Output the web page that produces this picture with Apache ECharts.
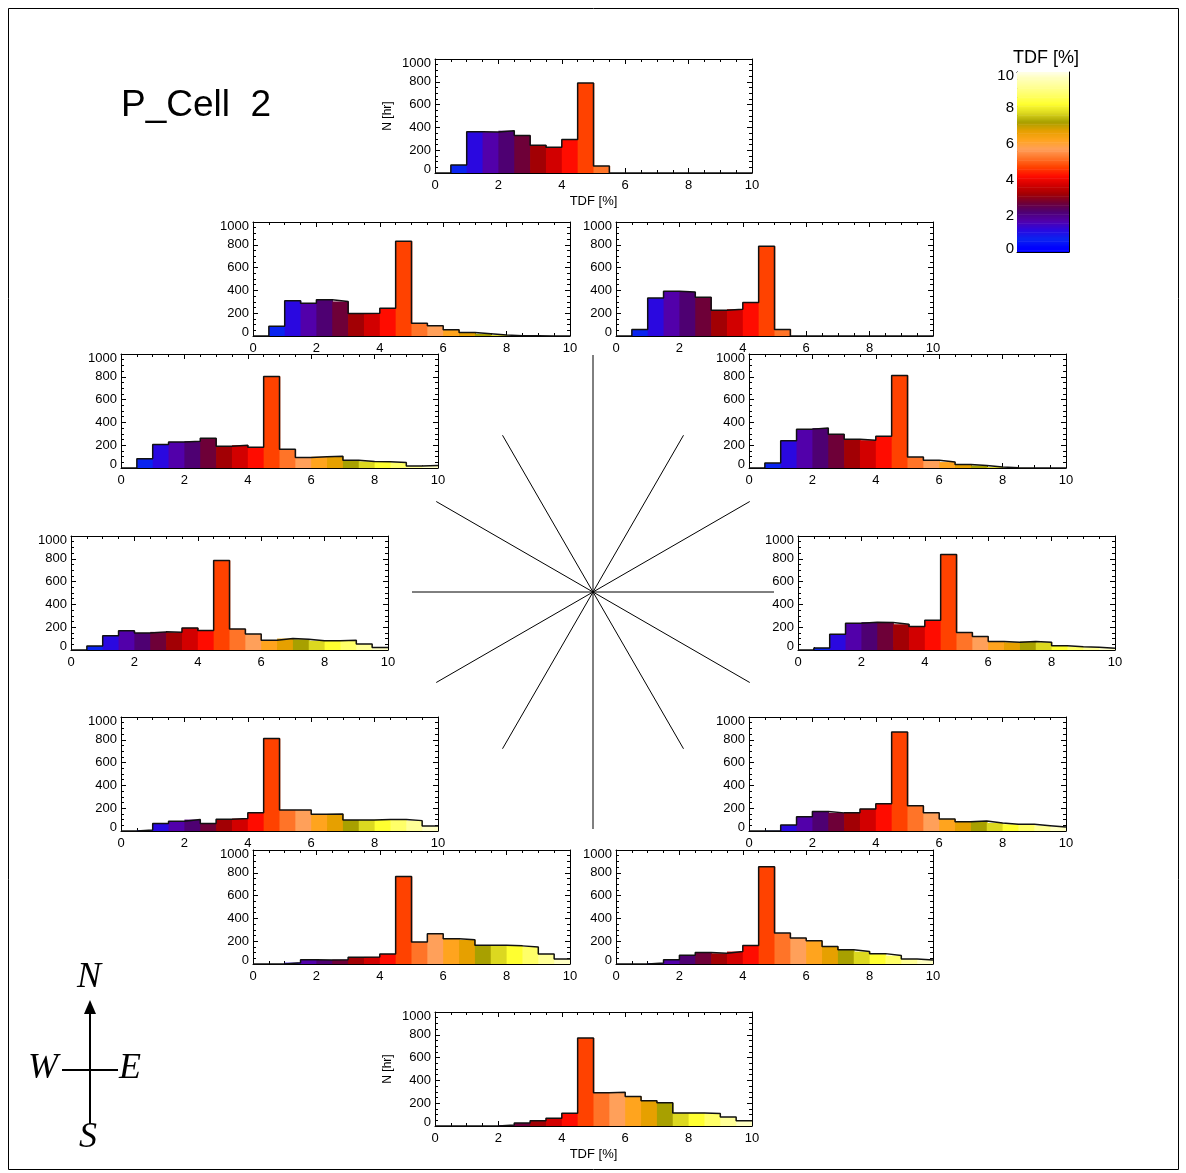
<!DOCTYPE html>
<html>
<head>
<meta charset="utf-8">
<script src="https://cdn.jsdelivr.net/npm/echarts@6/dist/echarts.min.js"></script>
<style>
  html, body { margin: 0; padding: 0; background: #fff; }
  #chart { width: 1186px; height: 1173px; }
</style>
</head>
<body>
<div id="chart"></div>
<script>
// TDF histogram bins: 20 bins of 0.5 % from 0 to 10 %
const binLower = [0, 0.5, 1, 1.5, 2, 2.5, 3, 3.5, 4, 4.5, 5, 5.5, 6, 6.5, 7, 7.5, 8, 8.5, 9, 9.5];
const binWidth = 0.5;

// Tick labels
const xTicks = [0, 2, 4, 6, 8, 10];
const yTicks = [0, 200, 400, 600, 800, 1000];
const cbTicks = [0, 2, 4, 6, 8, 10];

// Hours per TDF bin, one histogram per wind direction sector
const countsN   = [0, 70, 362, 359, 371, 329, 244, 226, 294, 790, 62, 0, 0, 0, 0, 0, 0, 0, 0, 0];
const countsNNE = [0, 58, 333, 392, 386, 341, 226, 235, 294, 787, 58, 0, 0, 0, 0, 0, 0, 0, 0, 0];
const countsENE = [0, 43, 238, 341, 350, 297, 253, 244, 279, 811, 96, 67, 52, 31, 22, 8, 2, 1, 0, 0];
const countsE   = [0, 18, 138, 235, 244, 241, 226, 206, 262, 838, 153, 118, 74, 68, 74, 68, 38, 29, 24, 15];
const countsESE = [0, 3, 53, 124, 171, 159, 159, 194, 238, 868, 221, 159, 106, 82, 88, 71, 59, 59, 47, 35];
const countsSSE = [0, 0, 9, 38, 76, 100, 94, 109, 162, 853, 271, 229, 203, 153, 124, 109, 91, 74, 44, 35];
const countsS   = [0, 0, 0, 0, 8, 26, 47, 68, 112, 771, 291, 297, 259, 221, 203, 115, 115, 109, 79, 47];
const countsSSW = [0, 0, 12, 38, 35, 38, 59, 62, 88, 768, 194, 265, 221, 212, 165, 165, 159, 150, 88, 44];
const countsWSW = [0, 8, 65, 85, 100, 65, 103, 109, 159, 812, 185, 185, 147, 150, 97, 97, 100, 100, 91, 44];
const countsW   = [0, 35, 126, 168, 150, 159, 156, 194, 171, 785, 185, 141, 85, 100, 94, 82, 82, 85, 53, 21];
const countsWNW = [0, 82, 206, 229, 235, 262, 191, 200, 182, 802, 164, 93, 99, 102, 67, 58, 55, 49, 17, 22];
const countsNNW = [0, 85, 309, 288, 318, 303, 197, 200, 244, 832, 111, 90, 55, 31, 20, 8, 3, 2, 0, 0];

// Colour of each TDF bin (colour table sampled at bin centres)
const binColors = ['#0000ff', '#0a24f0', '#2a08e0', '#5200aa', '#4e0072', '#6e0038', '#a20004', '#d20000',
  '#ff0c00', '#ff4200', '#ff7428', '#ffa05a', '#ffa41e', '#e6a000', '#a8a000', '#dcd820',
  '#ffff30', '#ffff68', '#ffff98', '#ffffc4'];
const cmapTopColor = '#ffffe8';

const FONT = '"Liberation Sans", Arial, Helvetica, sans-serif';
const SERIF = '"Liberation Serif", "DejaVu Serif", "Times New Roman", serif';
const PW = 317, PH = 114;

const panels = [
  { counts: countsN,   left: 435, top: 59, titled: true },
  { counts: countsNNW, left: 253, top: 222 },
  { counts: countsNNE, left: 616, top: 222 },
  { counts: countsWNW, left: 121, top: 354 },
  { counts: countsENE, left: 749, top: 354 },
  { counts: countsW,   left: 71,  top: 536 },
  { counts: countsE,   left: 798, top: 536 },
  { counts: countsWSW, left: 121, top: 717 },
  { counts: countsESE, left: 749, top: 717 },
  { counts: countsSSW, left: 253, top: 850 },
  { counts: countsSSE, left: 616, top: 850 },
  { counts: countsS,   left: 435, top: 1012, titled: true }
];

const grids = [], xAxes = [], yAxes = [], series = [];

function tickStyle(len) {
  return { show: true, inside: true, length: len, lineStyle: { color: '#000', width: 1 } };
}

function endLabelRich(fs, pad) {
  return {
    lo: { fontSize: fs, fontFamily: FONT, color: '#000', padding: [0, 0, pad, 0] },
    hi: { fontSize: fs, fontFamily: FONT, color: '#000', padding: [pad, 0, 0, 0] }
  };
}

panels.forEach((p, i) => {
  grids.push({ left: p.left, top: p.top, width: PW, height: PH, containLabel: false });
  const base = {
    gridIndex: i, type: 'value',
    min: xTicks[0], max: xTicks[xTicks.length - 1], interval: xTicks[1] - xTicks[0],
    axisLine: { show: true, onZero: false, lineStyle: { color: '#000', width: 1 } },
    axisTick: tickStyle(5),
    minorTick: { show: true, splitNumber: 4, length: 3, lineStyle: { color: '#000', width: 1 } },
    splitLine: { show: false }, minorSplitLine: { show: false }
  };
  xAxes.push(Object.assign({}, base, {
    position: 'bottom',
    axisLabel: { show: true, fontSize: 13, fontFamily: FONT, color: '#000', margin: 6,
      showMinLabel: true, showMaxLabel: true },
    name: p.titled ? 'TDF [%]' : '', nameLocation: 'middle', nameGap: 22,
    nameTextStyle: { fontSize: 13, fontFamily: FONT, color: '#000' }
  }));
  xAxes.push(Object.assign({}, base, { position: 'top', axisLabel: { show: false } }));

  const ybase = {
    gridIndex: i, type: 'value',
    min: yTicks[0], max: yTicks[yTicks.length - 1], interval: yTicks[1] - yTicks[0],
    axisLine: { show: true, onZero: false, lineStyle: { color: '#000', width: 1 } },
    axisTick: tickStyle(5),
    minorTick: { show: true, splitNumber: 4, length: 3, lineStyle: { color: '#000', width: 1 } },
    splitLine: { show: false }, minorSplitLine: { show: false }
  };
  yAxes.push(Object.assign({}, ybase, {
    position: 'left',
    axisLabel: { show: true, fontSize: 13, fontFamily: FONT, color: '#000', margin: 4,
      showMinLabel: true, showMaxLabel: true,
      formatter: v => v === yTicks[0] ? '{lo|' + v + '}' : (v === yTicks[yTicks.length - 1] ? '{hi|' + v + '}' : String(v)),
      rich: endLabelRich(13, 8) },
    name: p.titled ? 'N [hr]' : '', nameLocation: 'middle', nameGap: 41, nameRotate: 90,
    nameTextStyle: { fontSize: 12, fontFamily: FONT, color: '#000' }
  }));
  yAxes.push(Object.assign({}, ybase, { position: 'right', axisLabel: { show: false } }));

  // filled bins (each slightly overlaps the next to avoid hairline seams)
  series.push({
    type: 'custom', xAxisIndex: 2 * i, yAxisIndex: 2 * i, silent: true, clip: true, z: 2,
    data: p.counts.map((c, k) => [binLower[k], binLower[k] + binWidth, c, k]),
    encode: { x: [0, 1], y: 2 },
    renderItem: (params, api) => {
      const p0 = api.coord([api.value(0), 0]);
      const p1 = api.coord([api.value(1), api.value(2)]);
      return {
        type: 'rect',
        shape: { x: p0[0], y: p1[1], width: p1[0] - p0[0] + 0.8, height: p0[1] - p1[1] },
        style: { fill: binColors[api.value(3)] }
      };
    }
  });
  // histogram outline
  const last = p.counts.length - 1;
  series.push({
    type: 'line', xAxisIndex: 2 * i, yAxisIndex: 2 * i, silent: true, step: 'end', z: 3,
    symbol: 'none', clip: true,
    lineStyle: { color: '#111', width: 1.5 },
    data: p.counts.map((c, k) => [binLower[k], c]).concat([[binLower[last] + binWidth, p.counts[last]]])
  });
});

// Colour bar
const cbIndex = panels.length;
grids.push({ left: 1017, top: 72, width: 52, height: 180 });
xAxes.push({
  gridIndex: cbIndex, type: 'value', min: 0, max: 1, position: 'bottom',
  axisLine: { show: true, onZero: false, lineStyle: { color: '#000' } },
  axisTick: { show: false }, axisLabel: { show: false }, splitLine: { show: false }
});
xAxes.push({
  gridIndex: cbIndex, type: 'value', min: 0, max: 1, position: 'top',
  axisLine: { show: true, onZero: false, lineStyle: { color: '#000' } },
  axisTick: { show: false }, axisLabel: { show: false }, splitLine: { show: false },
  name: 'TDF [%]', nameLocation: 'middle', nameGap: 5,
  nameTextStyle: { fontSize: 18, fontFamily: FONT, color: '#000', verticalAlign: 'bottom', padding: [0, 0, 0, 6] }
});
const cbY = {
  gridIndex: cbIndex, type: 'value',
  min: cbTicks[0], max: cbTicks[cbTicks.length - 1], interval: cbTicks[1] - cbTicks[0],
  axisLine: { show: true, onZero: false, lineStyle: { color: '#000' } },
  axisTick: tickStyle(5),
  minorTick: { show: true, splitNumber: 4, length: 3, lineStyle: { color: '#000' } },
  splitLine: { show: false }, minorSplitLine: { show: false }
};
yAxes.push(Object.assign({}, cbY, {
  position: 'left',
  axisLabel: { show: true, fontSize: 15, fontFamily: FONT, color: '#000', margin: 3,
    showMinLabel: true, showMaxLabel: true,
    formatter: v => v === cbTicks[0] ? '{lo|' + v + '}' : (v === cbTicks[cbTicks.length - 1] ? '{hi|' + v + '}' : String(v)),
    rich: endLabelRich(15, 7) }
}));
yAxes.push(Object.assign({}, cbY, { position: 'right', axisLabel: { show: false } }));

// colour table sampled finely between bin-centre colours
function hexToRgb(h) { return [1, 3, 5].map(o => parseInt(h.substr(o, 2), 16)); }
const cmapStops = [[0, binColors[0]]]
  .concat(binColors.map((c, k) => [binLower[k] + binWidth / 2, c]))
  .concat([[10, cmapTopColor]]);
function cmap(v) {
  for (let s = 0; s < cmapStops.length - 1; s++) {
    const a = cmapStops[s], b = cmapStops[s + 1];
    if (v >= a[0] && v <= b[0]) {
      const t = b[0] === a[0] ? 0 : (v - a[0]) / (b[0] - a[0]);
      const ca = hexToRgb(a[1]), cb = hexToRgb(b[1]);
      return 'rgb(' + ca.map((x, j) => Math.round(x + (cb[j] - x) * t)).join(',') + ')';
    }
  }
  return cmapTopColor;
}
const cbSteps = 200, cbLevels = [], cbColors = [];
for (let s = 0; s < cbSteps; s++) {
  const v0 = s * 10 / cbSteps, v1 = (s + 1) * 10 / cbSteps;
  cbLevels.push([0, 1, v0, v1, s]);
  cbColors.push(cmap((v0 + v1) / 2));
}
series.push({
  type: 'custom', xAxisIndex: 2 * cbIndex, yAxisIndex: 2 * cbIndex, silent: true, clip: true,
  data: cbLevels, encode: { x: [0, 1], y: [2, 3] },
  renderItem: (params, api) => {
    const p0 = api.coord([api.value(0), api.value(2)]);
    const p1 = api.coord([api.value(1), api.value(3)]);
    return {
      type: 'rect',
      shape: { x: p0[0], y: p1[1], width: p1[0] - p0[0], height: p0[1] - p1[1] + 0.6 },
      style: { fill: cbColors[api.value(4)] }
    };
  }
});

// Decorations: radial sector lines, compass, border
const elements = [];
const cx = 593, cy = 592;
for (let k = 0; k < 12; k++) {
  const a = k * Math.PI / 6;
  const r = (k % 6 === 0) ? 237 : 181;
  elements.push({ type: 'line', silent: true,
    shape: { x1: cx, y1: cy, x2: cx + r * Math.sin(a), y2: cy - r * Math.cos(a) },
    style: { stroke: '#000', lineWidth: 1 } });
}
elements.push({ type: 'rect', silent: true, shape: { x: 8.5, y: 8.5, width: 1170, height: 1161 },
  style: { fill: 'none', stroke: '#000', lineWidth: 1 } });
elements.push({ type: 'line', silent: true, shape: { x1: 90, y1: 1010, x2: 90, y2: 1124 },
  style: { stroke: '#000', lineWidth: 2 } });
elements.push({ type: 'polygon', silent: true, shape: { points: [[90, 1000], [84, 1014], [96, 1014]] },
  style: { fill: '#000' } });
elements.push({ type: 'line', silent: true, shape: { x1: 62, y1: 1070, x2: 118, y2: 1070 },
  style: { stroke: '#000', lineWidth: 2 } });
[['N', 89, 978], ['W', 43, 1069], ['E', 130, 1069], ['S', 88, 1138]].forEach(t => {
  elements.push({ type: 'text', silent: true, x: t[1], y: t[2],
    style: { text: t[0], font: 'italic 36px ' + SERIF, fill: '#000', align: 'center', verticalAlign: 'middle' } });
});

const chart = echarts.init(document.getElementById('chart'), null, { renderer: 'canvas' });
chart.setOption({
  animation: false,
  backgroundColor: '#fff',
  title: { text: 'P_Cell  2', left: 116, top: 82,
    textStyle: { fontSize: 37, fontWeight: 'normal', fontFamily: FONT, color: '#000' } },
  grid: grids,
  xAxis: xAxes,
  yAxis: yAxes,
  series: series,
  graphic: { elements: elements }
});
</script>
</body>
</html>
